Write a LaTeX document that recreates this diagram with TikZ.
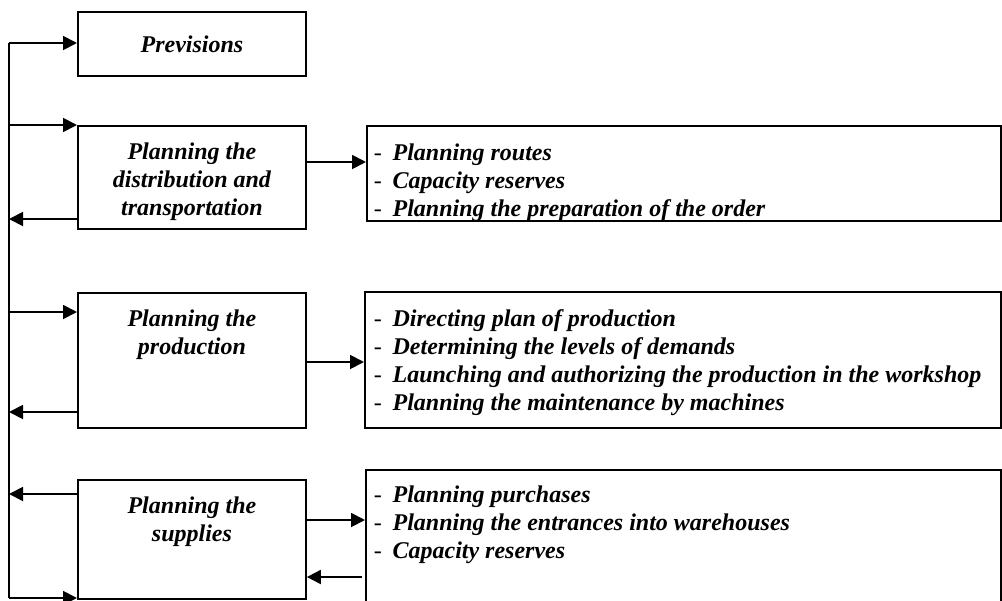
\documentclass[tikz,border=0pt]{standalone}
\usepackage{fontspec}
\setmainfont{Liberation Serif}
\usetikzlibrary{positioning,arrows.meta}

\begin{document}
\begin{tikzpicture}[
x=0.75pt, y=-0.75pt, line width=1.4pt, >={Triangle[length=10.5pt,width=10.5pt]},
pbox/.style = {draw, rectangle, anchor=north west, inner sep=0pt, minimum width=171pt},
listbox/.style = {draw, rectangle, anchor=north west, inner sep=0pt},
ptext/.style = {align=center, inner sep=0pt, font=\fontsize{18}{21}\selectfont\bfseries\itshape},
listtext/.style = {align=left, anchor=north west, inner sep=0pt, font=\fontsize{18}{21}\selectfont\bfseries\itshape}]
\newcommand{\itm}{\makebox[14pt][l]{\mdseries\upshape -}}
\useasboundingbox (0,0) rectangle (1002,600);

% left column
\node[pbox, minimum height=48pt] (prev) at (77,11) {};
\node[pbox, minimum height=77.25pt] (distr) at (77,125) {};
\node[pbox, minimum height=101.25pt] (prod) at (77,292) {};
\node[pbox, minimum height=89.25pt] (supp) at (77,479) {};
\node[ptext] (prevtxt) at (prev.center) {Previsions};
\node[ptext, below=12.5pt of distr.north] (distrtxt) {Planning the\\distribution and\\transportation};
\node[ptext, below=12.5pt of prod.north] (prodtxt) {Planning the\\production};
\node[ptext, below=12.5pt of supp.north] (supptxt) {Planning the\\supplies};

% right column
\node[listbox, minimum width=475.5pt, minimum height=71.25pt] (distrlist) at (366,125) {};
\node[listbox, minimum width=477pt, minimum height=102pt] (prodlist) at (364,291) {};
\node[listbox, minimum width=476.25pt, minimum height=110pt] (supplist) at (365,469) {};
\begin{scope}
\clip (distrlist.north west) rectangle (distrlist.south east);
\node[listtext] (distritems) at (373,143) {\itm Planning routes\\\itm Capacity reserves\\\itm Planning the preparation of the order};
\end{scope}
\node[listtext] (proditems) at (373,309) {\itm Directing plan of production\\\itm Determining the levels of demands\\\itm Launching and authorizing the production in the workshop\\\itm Planning the maintenance by machines};
\node[listtext] (suppitems) at (373,485) {\itm Planning purchases\\\itm Planning the entrances into warehouses\\\itm Capacity reserves};

% feedback line
\coordinate (bustop) at (9,43);
\coordinate (busbot) at (9,598);
\coordinate (dout) at (77,219);
\coordinate (pin) at (77,312);
\coordinate (pout) at (77,412);
\coordinate (sout) at (77,494);
\coordinate (dright) at (305,162);
\coordinate (pright) at (305,362);
\coordinate (sright) at (305,520);
\coordinate (sback) at (362,577);
\draw (bustop) -- (busbot);

\draw[->] (bustop) -- (bustop -| prev.west);
\draw[->] (distr.north west -| bustop) -- (distr.north west);
\draw[->] (dout) -- (dout -| bustop);
\draw[->] (pin -| bustop) -- (pin);
\draw[->] (pout) -- (pout -| bustop);
\draw[->] (sout) -- (sout -| bustop);
\draw[->] (busbot) -- (busbot -| supp.west);
\draw[->] (dright) -- (dright -| distrlist.west);
\draw[->] (pright) -- (pright -| prodlist.west);
\draw[->] (sright) -- (sright -| supplist.west);
\draw[->] (sback) -- (sback -| supp.east);
\end{tikzpicture}
\end{document}
